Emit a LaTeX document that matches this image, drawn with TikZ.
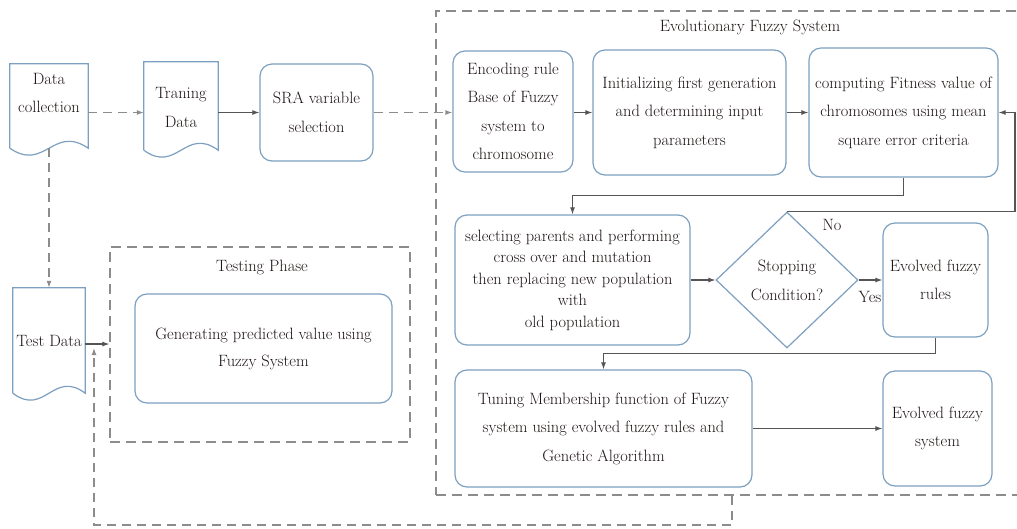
\documentclass[tikz,border=0pt]{standalone}
\usepackage{fix-cm}
\usetikzlibrary{arrows.meta,shapes.geometric}
\definecolor{boxc}{RGB}{125,160,192}
\definecolor{linec}{RGB}{85,85,85}
\definecolor{dashc}{RGB}{140,140,140}
\definecolor{txtc}{RGB}{30,20,20}
\tikzset{
  x=1pt, y=-1pt,
  fnt/.style={font=\fontsize{16.4}{#1}\selectfont},
  box/.style={draw=boxc, line width=1.2pt, rounded corners=12pt, align=center,
    text=txtc, inner sep=0pt, fnt=28.5},
  doctext/.style={align=center, text=txtc, inner sep=0pt, fnt=28.5},
  docarea/.style={inner sep=0pt, draw=none},
  docline/.style={draw=boxc, line width=1.2pt},
  conn/.style={draw=linec, line width=1.1pt, -{Latex[length=7pt,width=5pt]}},
  dconn/.style={draw=dashc, line width=1.2pt, dash pattern=on 9pt off 6pt,
    -{Latex[length=7pt,width=5pt]}},
  grp/.style={draw=dashc, line width=1.2pt, dash pattern=on 10pt off 6pt,
    inner sep=0pt},
  lbl/.style={text=txtc, inner sep=0pt, fnt=19},
}
\newcommand\docoutline[2]{%
  \draw[docline] (#1.south west) -- (#1.north west) -- (#1.north east) -- (#1.south east)
    .. controls +(-#2,-24) and +(#2,24) .. (#1.south west);}
\begin{document}
\begin{tikzpicture}
\useasboundingbox (0,0) rectangle (1017,528);
\fill[white] (0,0) rectangle (1017,528);

% groups
\node[grp, minimum width=600, minimum height=484] (evo) at (736,253) {};
\node[lbl] (evot) at (750,27) {Evolutionary Fuzzy System};
\node[grp, minimum width=300, minimum height=195] (tp) at (260,344.5) {};
\node[lbl] (tpt) at (262,267) {Testing Phase};

% documents
\node[docarea, minimum width=78, minimum height=84] (dc) at (49,106) {};
\docoutline{dc}{35}
\node[doctext] (dct) at (49,93) {Data\\collection};
\node[docarea, minimum width=74, minimum height=88] (trd) at (181,106) {};
\docoutline{trd}{33}
\node[doctext] (trdt) at (181,107.5) {Traning\\Data};
\node[docarea, minimum width=72, minimum height=105] (td) at (49,340.5) {};
\docoutline{td}{32}
\node[doctext] (tdt) at (49,341) {Test Data};

% boxes
\node[box, minimum width=113, minimum height=97] (sra) at (316.5,112.5) {SRA variable\\selection};
\node[box, minimum width=120, minimum height=121] (enc) at (513,111.5) {Encoding rule\\Base of Fuzzy\\system to\\chromosome};
\node[box, minimum width=193, minimum height=125] (ini) at (689.5,112.5) {Initializing first generation\\and determining input\\parameters};
\node[box, minimum width=189, minimum height=129] (comp) at (903.5,112.5) {computing Fitness value of\\chromosomes using mean\\square error criteria};
\node[box, fnt=21.5, minimum width=235, minimum height=130] (sel) at (572.5,280) {selecting parents and performing\\cross over and mutation\\then replacing new population\\with\\old population};
\node[diamond, draw=boxc, line width=1.2pt, aspect=1.04, inner sep=0pt, align=center,
  text=txtc, fnt=29, minimum width=142, minimum height=136] (dia) at (787,280) {Stopping\\Condition?};
\node[box, minimum width=105, minimum height=114] (efr) at (935.5,280) {Evolved fuzzy\\rules};
\node[box, minimum width=297, minimum height=117] (tun) at (603.5,428.5) {Tuning Membership function of Fuzzy\\system using evolved fuzzy rules and\\Genetic Algorithm};
\node[box, minimum width=109, minimum height=115] (efs) at (937.5,428.5) {Evolved fuzzy\\system};
\node[box, fnt=27, minimum width=257, minimum height=109] (gen) at (263.5,348.5) {Generating predicted value using\\Fuzzy System};

% helper coordinates
\coordinate (rx) at (1015,0);
\coordinate (tdout) at (0,344);
\coordinate (fb1) at (732,525);
\coordinate (fb2) at (94,525);
\coordinate (fbend) at (94,348);

% connectors
\draw[dconn] (dc.east |- sra) -- (trd.west |- sra);
\draw[conn] (trd.east |- sra) -- (sra.west);
\draw[dconn] (sra.east) -- (enc.west |- sra);
\draw[conn] (enc.east |- ini) -- (ini.west);
\draw[conn] (ini.east) -- (comp.west);
\draw[conn] (comp.south) -- ++(0,18) -| (sel.north);
\draw[conn] (sel.east) -- (dia.west);
\draw[conn] (dia.north) -- (dia.north -| rx) |- (comp.east);
\node[lbl] (no) at (832,225) {No};
\draw[conn] (dia.east) -- (efr.west);
\node[lbl] (yes) at (870,297) {Yes};
\draw[conn] (efr.south) -- ++(0,16) -| (tun.north);
\draw[conn] (tun.east) -- (efs.west);
\draw[dconn] (dc.south) -- (td.north);
\draw[conn] (td.east |- tdout) -- (tp.west |- tdout);
\draw[dconn] (evo.south -| fb1) -- (fb1) -- (fb2) -- (fbend);
\end{tikzpicture}
\end{document}
